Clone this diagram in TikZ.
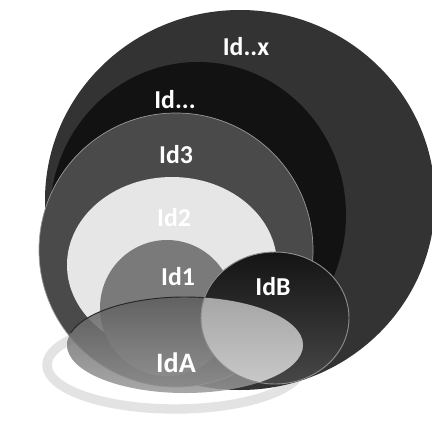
\documentclass[tikz,border=0pt]{standalone}
\usepackage{fontspec}
\setmainfont{Carlito}
\definecolor{ringx}{HTML}{333333}
\definecolor{ringdots}{HTML}{121212}
\definecolor{ringthree}{HTML}{4A4A4A}
\definecolor{ringtwo}{HTML}{E6E6E6}
\definecolor{ringone}{HTML}{7A7A7A}
\definecolor{lensb}{HTML}{141414}
\definecolor{lensa}{HTML}{5E5E5E}
\definecolor{glow}{HTML}{DCDCDC}

\begin{document}
\begin{tikzpicture}[x=0.03cm, y=-0.03cm,
      lbl/.style={text=white, font=\fontsize{22}{26}\selectfont\bfseries},
      halo/.style={draw=glow, line width=8pt, opacity=0.8}]
    \useasboundingbox[fill=white] (0,0) rectangle (432,424);
    \draw[halo] (175,365) ellipse [x radius=128, y radius=44];
    \fill[ringx] (240,200) ellipse [x radius=195, y radius=190];
    \fill[ringdots] (198,215) ellipse [x radius=148, y radius=153];
    \fill[ringthree] (176,250) ellipse [x radius=137, y radius=137];
    \draw[black!40, line width=0.6pt] (176,250) ellipse [x radius=137, y radius=137];
    \fill[ringtwo] (172,265) ellipse [x radius=105, y radius=88];
    \fill[ringone] (167,308) ellipse [x radius=67, y radius=68];
    \shade[top color=lensb, bottom color=black!72] (275,318) ellipse [x radius=74, y radius=66];
    \shade[top color=lensa, bottom color=black!40, opacity=0.85] (185,345) ellipse [x radius=118, y radius=48];
    \draw[black!85, line width=0.8pt] (185,345) ++(195:118 and 48) arc [start angle=195, end angle=345, x radius=118, y radius=48];
    \begin{scope}
      \clip (275,318) ellipse [x radius=74, y radius=66];
      \shade[top color=black!35, bottom color=black!20] (185,345) ellipse [x radius=118, y radius=48];
    \end{scope}
    \draw[black!45, line width=0.8pt] (275,318) ellipse [x radius=74, y radius=66];
    \node[lbl] (x) at (246,47) {Id..x};
    \node[lbl] (dots) at (175,100) {Id...};
    \node[lbl] (three) at (176,155) {Id3};
    \node[lbl] (two) at (174,218) {Id2};
    \node[lbl] (one) at (178,277) {Id1};
    \node[lbl] (b) at (273,287) {IdB};
    \node[lbl, font=\fontsize{24}{28}\selectfont\bfseries] (a) at (176,363) {IdA};
  \end{tikzpicture}
\end{document}
